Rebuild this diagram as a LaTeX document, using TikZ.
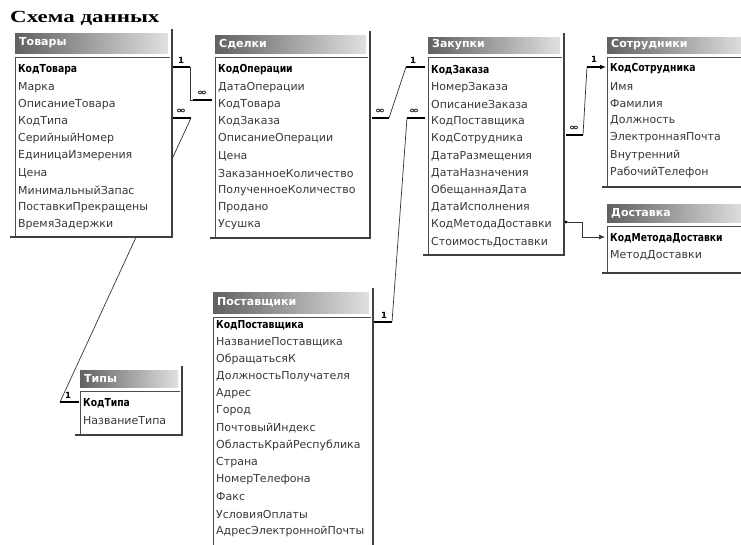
\documentclass[tikz,border=0pt]{standalone}
\usepackage{fontspec}
\setmainfont{DejaVu Sans}
\newfontfamily\ttlfont{Liberation Serif}
\usetikzlibrary{arrows.meta}

\tikzset{
  rowtxt/.style={anchor=west, inner sep=0pt, font=\fontsize{11}{13}\selectfont, text=black!78},
  hdrtxt/.style={anchor=west, inner sep=0pt, font=\fontsize{11}{13}\selectfont\bfseries, text=white},
  tframe/.style={line width=1.6pt, draw=black!75},
  tinner/.style={line width=0.9pt, draw=black!70},
  rel/.style={line width=0.7pt, draw=black!80},
  relend/.style={line width=2pt, draw=black},
  card/.style={inner sep=0pt, font=\fontsize{8.5}{9}\selectfont\bfseries},
  reltip/.style={-{Latex[length=6pt,width=5pt]}},
}
\newcommand\manysym{\scalebox{1.4}[1]{∞}}
\newcommand\keytxt[1]{\scalebox{0.84}[1]{\bfseries\color{black}#1}}

% #1 name, #2 L, #3 R, #4 T, #5 H, #6 B, #7 title, #8 y0, #9 rows
\newcommand\dbtable[9]{%
  \fill[white] (#2,#5) rectangle ({#3+4},#6);
  \shade[left color=black!62, right color=black!12] (#2,#4) rectangle (#3,#5);
  \node[hdrtxt] (#1-h) at ({#2+4},{(#4+#5)/2}) {#7};
  \draw[tinner] (#2,{#5+4}) -- ({#3+2},{#5+4});
  \draw[tinner] (#2,{#5+4}) -- (#2,#6);
  \draw[tframe] ({#3+4},{#4-4}) -- ({#3+4},#6) -- ({#2-5},#6);
  \foreach \t [count=\i] in {#9} {
    \ifnum\i=1
      \node[rowtxt] (#1-\i) at ({#2+3},{#8+(\i-1)*17.2}) {\keytxt{\t}};
    \else
      \node[rowtxt] (#1-\i) at ({#2+3},{#8+(\i-1)*17.2}) {\t};
    \fi
  }
}

\begin{document}
\begin{tikzpicture}[x=1pt,y=-1pt]
\useasboundingbox (0,0) rectangle (741,544);
\clip (0,0) rectangle (741,544);

% title
\node[anchor=base west, inner sep=0pt, font=\ttlfont\bfseries\fontsize{17}{20}\selectfont] (title) at (10,22) {\scalebox{1.35}[1]{Схема данных}};

% ---- relationships (drawn first, tables cover them) ----
% R1 Товары.КодТовара -> Сделки.КодТовара
\coordinate (r1a) at (173,67);
\coordinate (r1b) at (190,67);
\coordinate (r1c) at (190,100);
\coordinate (r1d) at (193,100);
\coordinate (r1e) at (212,100);
\draw[relend] (r1a) -- (r1b);
\draw[rel] (r1b) -- (r1c) -- (r1d);
\draw[relend] (r1d) -- (r1e);
\node[card] (r1one) at (181,60) {1};
\node[card] (r1many) at (202,93) {\manysym};

% R2 Товары.КодТипа -> Типы.КодТипа
\coordinate (r2a) at (173,118);
\coordinate (r2b) at (191,118);
\coordinate (r2c) at (60,402);
\coordinate (r2d) at (79,402);
\draw[relend] (r2a) -- (r2b);
\draw[rel] (r2b) -- (r2c);
\draw[relend] (r2c) -- (r2d);
\node[card] (r2many) at (181,111) {\manysym};
\node[card] (r2one) at (68,395) {1};

% R3 Сделки.КодЗаказа -> Закупки.КодЗаказа
\coordinate (r3a) at (372,118);
\coordinate (r3b) at (389,118);
\coordinate (r3c) at (406,67);
\coordinate (r3d) at (425,67);
\draw[relend] (r3a) -- (r3b);
\draw[rel] (r3b) -- (r3c);
\draw[relend] (r3c) -- (r3d);
\node[card] (r3many) at (380,111) {\manysym};
\node[card] (r3one) at (413,60) {1};

% R4 Поставщики.КодПоставщика -> Закупки.КодПоставщика
\coordinate (r4a) at (374,322);
\coordinate (r4b) at (392,322);
\coordinate (r4c) at (407,118);
\coordinate (r4d) at (425,118);
\draw[relend] (r4a) -- (r4b);
\draw[rel] (r4b) -- (r4c);
\draw[relend] (r4c) -- (r4d);
\node[card] (r4one) at (384,315) {1};
\node[card] (r4many) at (414,111) {\manysym};

% R5 Закупки.КодСотрудника -> Сотрудники.КодСотрудника
\coordinate (r5a) at (566,135);
\coordinate (r5b) at (583,135);
\coordinate (r5c) at (587,67);
\coordinate (r5d) at (606,67);
\draw[relend] (r5a) -- (r5b);
\draw[rel] (r5b) -- (r5c);
\draw[relend, reltip] (r5c) -- (r5d);
\node[card] (r5many) at (574,128) {\manysym};
\node[card] (r5one) at (594,59) {1};

% R6 Закупки.КодМетодаДоставки -> Доставка.КодМетодаДоставки
\coordinate (r6a) at (566,222);
\coordinate (r6b) at (582,222);
\coordinate (r6c) at (582,237);
\coordinate (r6d) at (605,237);
\fill (r6a) circle (1.6);
\draw[rel, reltip] (r6a) -- (r6b) -- (r6c) -- (r6d);

% ---- tables ----
\dbtable{tov}{15}{168}{33}{53}{237}{Товары}{70}{КодТовара,Марка,ОписаниеТовара,КодТипа,СерийныйНомер,ЕдиницаИзмерения,Цена,МинимальныйЗапас,ПоставкиПрекращены,ВремяЗадержки}
\dbtable{sd}{215}{366}{35}{53}{238}{Сделки}{70}{КодОперации,ДатаОперации,КодТовара,КодЗаказа,ОписаниеОперации,Цена,ЗаказанноеКоличество,ПолученноеКоличество,Продано,Усушка}
\dbtable{zk}{428}{560}{37}{53}{255}{Закупки}{70}{КодЗаказа,НомерЗаказа,ОписаниеЗаказа,КодПоставщика,КодСотрудника,ДатаРазмещения,ДатаНазначения,ОбещаннаяДата,ДатаИсполнения,КодМетодаДоставки,СтоимостьДоставки}
\dbtable{so}{607}{745}{37}{53}{187}{Сотрудники}{69}{КодСотрудника,Имя,Фамилия,Должность,ЭлектроннаяПочта,Внутренний,РабочийТелефон}
\dbtable{dv}{607}{745}{204}{222}{273}{Доставка}{238}{КодМетодаДоставки,МетодДоставки}
\dbtable{ps}{213}{369}{292}{313}{560}{Поставщики}{325}{КодПоставщика,НазваниеПоставщика,ОбращатьсяК,ДолжностьПолучателя,Адрес,Город,ПочтовыйИндекс,ОбластьКрайРеспублика,Страна,НомерТелефона,Факс,УсловияОплаты,АдресЭлектроннойПочты}
\dbtable{tp}{80}{178}{370}{387}{435}{Типы}{403}{КодТипа,НазваниеТипа}
\end{tikzpicture}
\end{document}
